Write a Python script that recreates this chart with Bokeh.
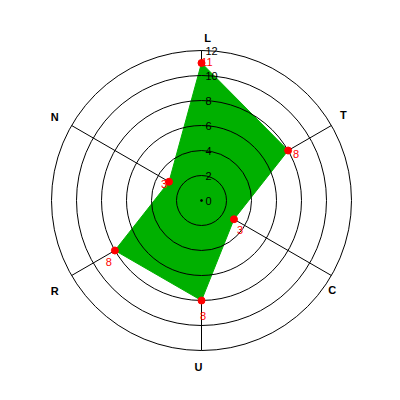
import math
from bokeh.plotting import figure
from bokeh.models import Range1d
from bokeh.core.properties import value
from bokeh.embed import file_html
from bokeh.resources import INLINE

# ---- data ----
axes_labels = ["L", "T", "C", "U", "R", "N"]
values = [11, 8, 3, 8, 8, 3]
ring_ticks = [2, 4, 6, 8, 10, 12]
tick_labels = ["0", "2", "4", "6", "8", "10", "12"]
tick_values = [0, 2, 4, 6, 8, 10, 12]

# ---- geometry / style ----
PX = 12.5           # pixels per unit
RMAX = 12
n = len(axes_labels)
angles = [math.radians(90 - 360.0 / n * i) for i in range(n)]

# per-label pixel nudges (screen px: right, down) for styling
axis_nudge = [(6, 3), (-2, -2.5), (-13, 6.5), (-3, 0), (-3, 7.5), (-3, -1)]
val_nudge = [(5.5, -1), (8, 3), (6, 11), (1.5, 15), (-6, 11), (-5, 2)]

p = figure(width=384, height=384,
           x_range=Range1d(-201 / PX, 183 / PX), y_range=Range1d(-184 / PX, 200 / PX),
           output_backend="svg", toolbar_location=None, min_border=0,
           x_axis_type=None, y_axis_type=None)
p.grid.visible = False
p.outline_line_color = None
p.background_fill_color = "white"
p.border_fill_color = "white"

# spokes
p.segment(x0=[0] * n, y0=[0] * n,
          x1=[RMAX * math.cos(a) for a in angles],
          y1=[RMAX * math.sin(a) for a in angles],
          line_color="black", line_width=1)

# polygon
xs = [v * math.cos(a) for v, a in zip(values, angles)]
ys = [v * math.sin(a) for v, a in zip(values, angles)]
p.patch(xs, ys, fill_color="#00B000", line_color="#00B000", line_width=1)

# rings
p.circle(x=[0] * len(ring_ticks), y=[0] * len(ring_ticks), radius=ring_ticks,
         fill_color=None, line_color="black", line_width=1)

# center dot
p.scatter(x=[0], y=[0], size=2, color="black")

# tick labels
p.text(x=[0] * len(tick_values), y=tick_values, text=tick_labels,
       x_offset=4, text_align="left", text_baseline="middle",
       text_font=value("Liberation Sans"), text_font_size="11px", text_color="black")

# value dots
p.scatter(x=xs, y=ys, size=7, color="#FF0000")

# value labels
vx = [x + dx / PX for x, (dx, dy) in zip(xs, val_nudge)]
vy = [y - dy / PX for y, (dx, dy) in zip(ys, val_nudge)]
p.text(x=vx, y=vy, text=[str(v) for v in values],
       text_align="center", text_baseline="middle",
       text_font=value("Liberation Sans"), text_font_size="11px", text_color="#FF0000")

# axis labels
RL = 166 / PX
lx = [RL * math.cos(a) + dx / PX for a, (dx, dy) in zip(angles, axis_nudge)]
ly = [RL * math.sin(a) - dy / PX for a, (dx, dy) in zip(angles, axis_nudge)]
p.text(x=lx, y=ly, text=axes_labels,
       text_align="center", text_baseline="middle",
       text_font=value("Liberation Sans"), text_font_size="11px",
       text_font_style="bold", text_color="black")

open("out.html", "w").write(file_html(p, INLINE))
